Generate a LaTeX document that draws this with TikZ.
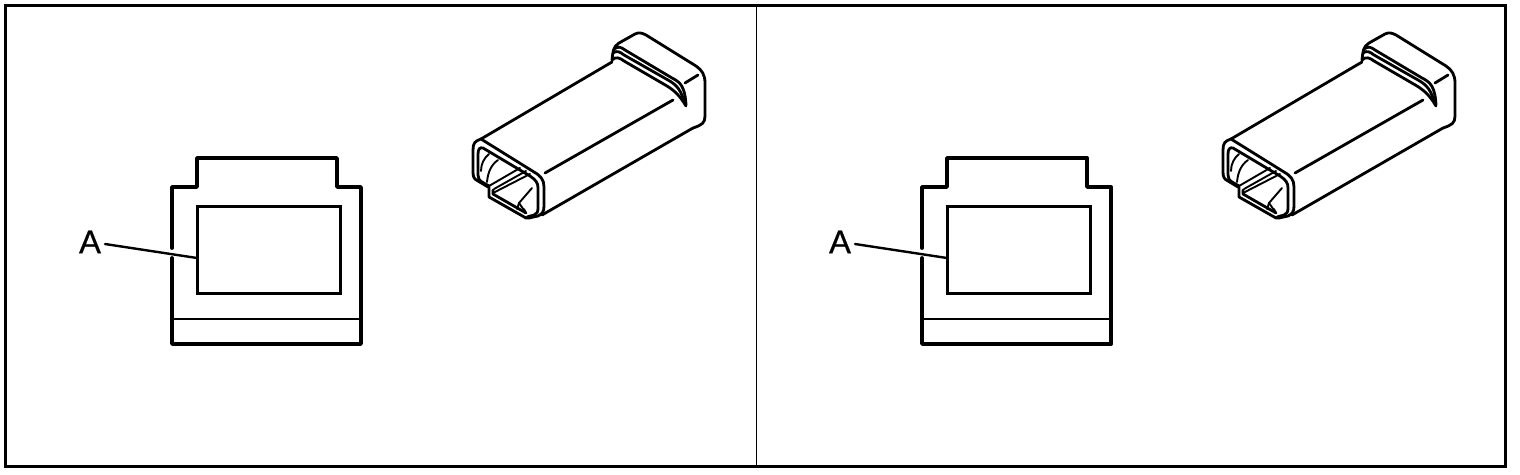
\documentclass[tikz,border=0pt]{standalone}
\usepackage{fontspec}
\setmainfont{Liberation Sans}
\newfontfamily\calloutfont[FakeBold=0.6]{Liberation Sans}
\tikzset{
  x=1pt,y=-1pt,
  heavy/.style={line width=3.8pt,line cap=round,line join=round},
  medium/.style={line width=3pt,line join=miter},
  fine/.style={line width=2.4pt,line cap=round,line join=round},
  iso/.style={line width=2.8pt,line cap=round,line join=round},
  thin iso/.style={line width=1.9pt,line cap=round,line join=round},
  callout/.style={inner sep=0pt,font=\calloutfont\fontsize{33}{33}\selectfont},
  panel/.pic={
    % front view
    \draw[heavy] (172,248) -- (172,187) -- (197,187) -- (197,158) -- (337,158) -- (337,187) -- (361,187) -- (361,344) -- (172,344) -- (172,258);
    \draw[medium] (197,206) rectangle (340,293);
    \draw[fine] (172,319) -- (361,319);
    \node[callout] (-lab) at (90,242) {A};
    \coordinate (-tip) at (197,258);
    \draw[fine] (105,244) -- (-tip);
    % body
    \draw[iso] (481,139) -- (612,62);
    \draw[iso] (545,173) -- (673,100);
    \draw[iso] (542,215) -- (693,128);
    % rear flange
    \draw[iso] (612,60) .. controls (613,51) and (613,47) .. (619,43) -- (635,34) .. controls (639,32) and (642,33) .. (646,35) -- (696,66) .. controls (702,70) and (705,75) .. (705,83) -- (705,116) .. controls (705,123) and (702,125) .. (693,128);
    \draw[iso] (614,49) .. controls (618,46) and (621,47) .. (625,50) -- (672,78) .. controls (680,82) and (685,86) .. (686,105);
    \draw[iso] (613,53) .. controls (617,50) and (620,52) .. (624,55) -- (668,80) .. controls (677,85) and (681,90) .. (685,104);
    \draw[iso] (612,60) .. controls (616,56) and (620,58) .. (624,61) -- (667,86) .. controls (675,91) and (680,96) .. (686,106);
    \draw[iso] (685,83) -- (698,75);
    % front outer frame
    \draw[iso] (488,187) -- (478,181) .. controls (474,179) and (473,177) .. (473,172) -- (473,150) .. controls (473,143) and (475,141) .. (481,139) -- (534,172) .. controls (541,176) and (544,180) .. (544,187) -- (544,206) .. controls (544,212) and (542,214) .. (538,216) -- (529,218);
    % front inner frame
    \draw[iso] (489,186) -- (482,182) .. controls (479,180) and (478,178) .. (478,175) -- (478,154) .. controls (478,149) and (480,147) .. (483,148) -- (530,176) .. controls (536,180) and (538,183) .. (538,188) -- (538,208) .. controls (538,212) and (537,214) .. (534,215) -- (527,217);
    % lower housing
    \draw[iso] (489,187) -- (489,197) -- (526,218) -- (529,218);
    \draw[iso] (493,190) -- (493,194) -- (526,213);
    % interior bars
    \draw[thin iso] (489,186) -- (520,168);
    \draw[thin iso] (494,189) -- (526,171);
    \draw[thin iso] (493,193) -- (530,174);
    % interior curves
    \draw[thin iso] (489,154) .. controls (484,158) and (481,164) .. (481,171);
    \draw[thin iso] (498,160) .. controls (491,165) and (488,172) .. (487,182);
    \draw[thin iso] (532,188) -- (519,203) -- (517,209);
    \draw[thin iso] (519,203) -- (526,213) -- (524,209);
  }
}
\begin{document}
\begin{tikzpicture}
  \useasboundingbox (0,0) rectangle (1520,474);
  \draw[line width=3pt] (5.5,5.5) rectangle (1505.5,466.5);
  \coordinate (divtop) at (756.5,5.5);
  \coordinate (divbot) at (756.5,466.5);
  \draw[line width=1pt] (divtop) -- (divbot);
  \pic (left) at (0,0) {panel};
  \pic (right) at (750,0) {panel};
\end{tikzpicture}
\end{document}
